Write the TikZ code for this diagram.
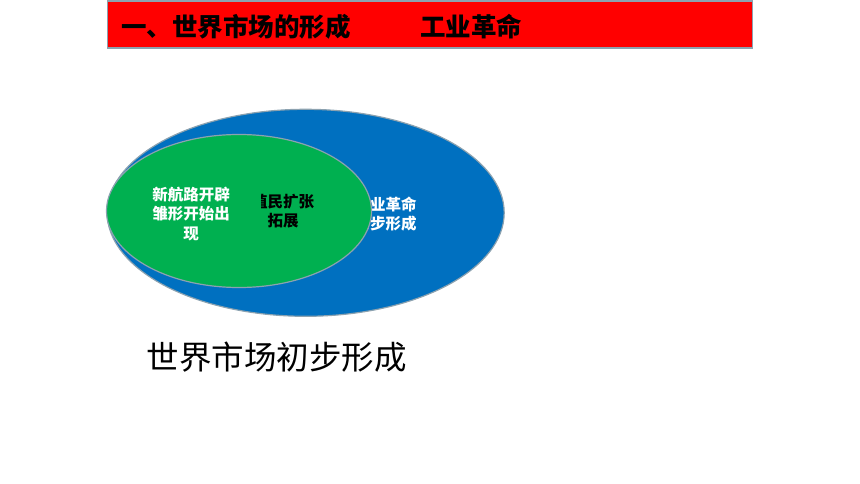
\documentclass[tikz,border=0pt]{standalone}
\usepackage{fontspec}
\newfontfamily\cjk{Noto Sans CJK SC}
\usetikzlibrary{shapes.geometric}
\definecolor{barred}{RGB}{255,0,0}
\definecolor{marketblue}{RGB}{0,112,192}
\definecolor{routegreen}{RGB}{0,176,80}
\definecolor{rimgray}{RGB}{140,162,176}

\begin{document}
\begin{tikzpicture}[x=1pt,y=-1pt,inner sep=0pt]
  \tikzstyle{every node}=[font=\cjk]
  \tikzstyle{blob}=[ellipse,draw=rimgray,line width=1.2pt]
  \tikzstyle{headtext}=[anchor=west,font=\cjk\bfseries\fontsize{25.5}{25.5}\selectfont]
  \tikzstyle{innertext}=[align=center,font=\cjk\bfseries\fontsize{15.5}{18.5}\selectfont]

  \useasboundingbox (0,0) rectangle (860,484);

  % title bar
  \node[draw=rimgray,fill=barred,line width=1.2pt,minimum width=645pt,minimum height=47pt] (bar) at (430,24.5) {};
  \node[headtext] (heading) at (121,27) {一、世界市场的形成};
  \node[headtext] (topic) at (420,27) {工业革命};

  % nested ellipses
  \node[blob,fill=marketblue,minimum width=397pt,minimum height=207pt] (market) at (305.7,212.8) {};
  \node[innertext,text=white] (industry) at (385.5,214) {工业革命\\初步形成};
  \node[blob,fill=routegreen,minimum width=265pt,minimum height=153pt] (routes) at (239,211) {};
  \node[innertext,text=white,font=\cjk\bfseries\fontsize{15.5}{19.5}\selectfont] (discovery) at (191,214) {新航路开辟\\雏形开始出\\现};
  \begin{scope}
    \clip (261,190) rectangle (330,235);
    \node[innertext,text=black] (colony) at (283,211) {殖民扩张\\拓展};
  \end{scope}

  \node[font=\cjk\fontsize{32.5}{32.5}\selectfont] (result) at (276.5,357) {世界市场初步形成};
\end{tikzpicture}
\end{document}
